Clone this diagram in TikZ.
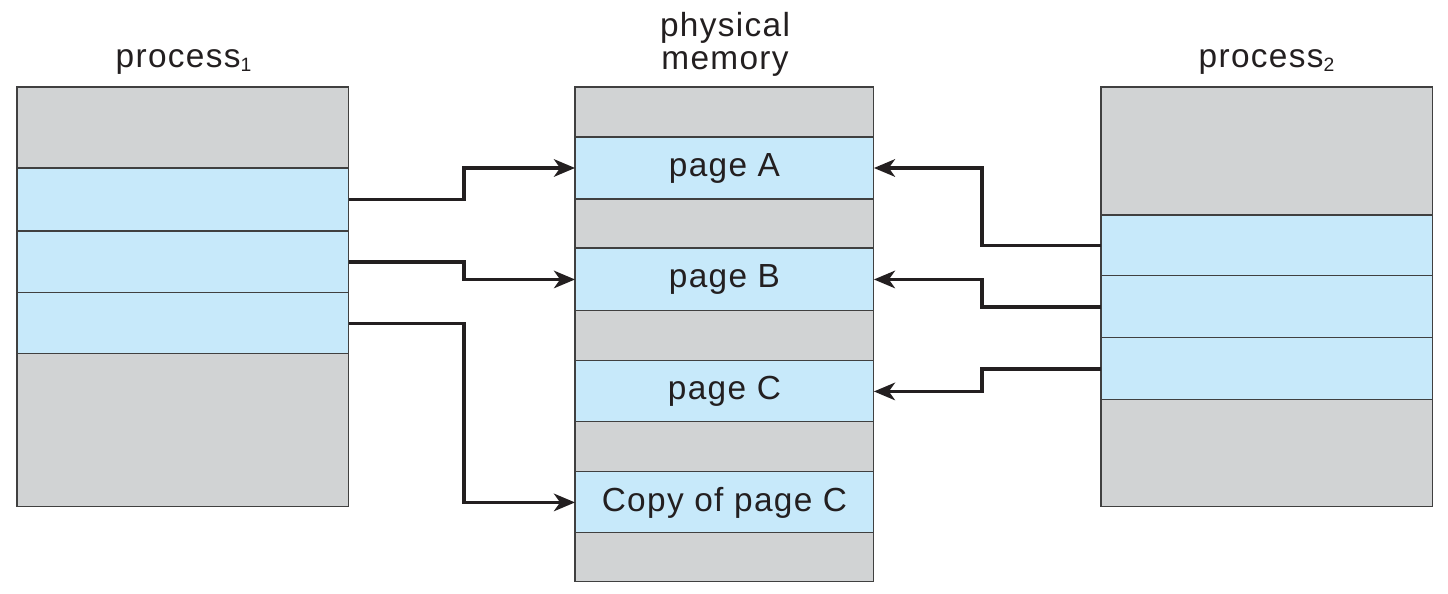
\documentclass[tikz,border=0pt]{standalone}
\usepackage{fontspec}
\setmainfont{Liberation Sans}[LetterSpace=4]
\usetikzlibrary{positioning,arrows.meta}
\definecolor{freegray}{RGB}{209,211,212}
\definecolor{pageblue}{RGB}{199,233,250}
\definecolor{inkdark}{RGB}{35,31,32}
\tikzset{
  band/.style={draw=black!75, line width=0.6pt, inner sep=0pt, outer sep=0pt, text=inkdark, font=\fontsize{19}{19}\selectfont},
  freeband/.style={band, fill=freegray},
  pageband/.style={band, fill=pageblue},
  boxlabel/.style={inner sep=0pt, text=inkdark, align=center, font=\fontsize{19}{19}\selectfont},
  conn/.style={draw=inkdark, line width=1.8pt, -{Stealth[length=12pt,width=10pt,inset=3.5pt]}}
}
\newcommand{\sub}[1]{\textsubscript{\fontsize{11}{11}\selectfont #1}}

\begin{document}
\begin{tikzpicture}[x=0.02cm,y=-0.02cm]
\useasboundingbox (0,0) rectangle (1448,593);

% process 1
\node[freeband, minimum width=6.64cm, minimum height=1.62cm, anchor=north west] (p1top) at (17,87) {};
\node[pageband, minimum width=6.64cm, minimum height=1.26cm, below=0pt of p1top] (p1a) {};
\node[pageband, minimum width=6.64cm, minimum height=1.24cm, below=0pt of p1a] (p1b) {};
\node[pageband, minimum width=6.64cm, minimum height=1.22cm, below=0pt of p1b] (p1c) {};
\node[freeband, minimum width=6.64cm, minimum height=3.06cm, below=0pt of p1c] (p1bot) {};
\node[boxlabel, anchor=base] (p1lbl) at (184,67) {process\sub{1}};

% physical memory
\node[freeband, minimum width=5.98cm, minimum height=1.00cm, anchor=north west] (m0) at (575,87) {};
\node[pageband, minimum width=5.98cm, minimum height=1.24cm, below=0pt of m0] (pgA) {page A};
\node[freeband, minimum width=5.98cm, minimum height=0.98cm, below=0pt of pgA] (m1) {};
\node[pageband, minimum width=5.98cm, minimum height=1.26cm, below=0pt of m1] (pgB) {page B};
\node[freeband, minimum width=5.98cm, minimum height=1.00cm, below=0pt of pgB] (m2) {};
\node[pageband, minimum width=5.98cm, minimum height=1.22cm, below=0pt of m2] (pgC) {page C};
\node[freeband, minimum width=5.98cm, minimum height=1.00cm, below=0pt of pgC] (m3) {};
\node[pageband, minimum width=5.98cm, minimum height=1.22cm, below=0pt of m3] (pgCc) {Copy of page C};
\node[freeband, minimum width=5.98cm, minimum height=0.98cm, below=0pt of pgCc] (m4) {};
\node[boxlabel, anchor=south] (memlbl) at (725,77) {physical\\memory};

% process 2
\node[freeband, minimum width=6.64cm, minimum height=2.56cm, anchor=north west] (p2top) at (1101,87) {};
\node[pageband, minimum width=6.64cm, minimum height=1.22cm, below=0pt of p2top] (p2a) {};
\node[pageband, minimum width=6.64cm, minimum height=1.24cm, below=0pt of p2a] (p2b) {};
\node[pageband, minimum width=6.64cm, minimum height=1.24cm, below=0pt of p2b] (p2c) {};
\node[freeband, minimum width=6.64cm, minimum height=2.14cm, below=0pt of p2c] (p2bot) {};
\node[boxlabel, anchor=base] (p2lbl) at (1267,67) {process\sub{2}};

\coordinate (xl) at (464,0);
\coordinate (xr) at (982,0);

\draw[conn] (p1a.east) -- (p1a.east -| xl) |- (pgA.west);
\draw[conn] (p1b.east) -- (p1b.east -| xl) |- (pgB.west);
\draw[conn] (p1c.east) -- (p1c.east -| xl) |- (pgCc.west);

\draw[conn] (p2a.west) -- (p2a.west -| xr) |- (pgA.east);
\draw[conn] (p2b.west) -- (p2b.west -| xr) |- (pgB.east);
\draw[conn] (p2c.west) -- (p2c.west -| xr) |- (pgC.east);
\end{tikzpicture}
\end{document}
